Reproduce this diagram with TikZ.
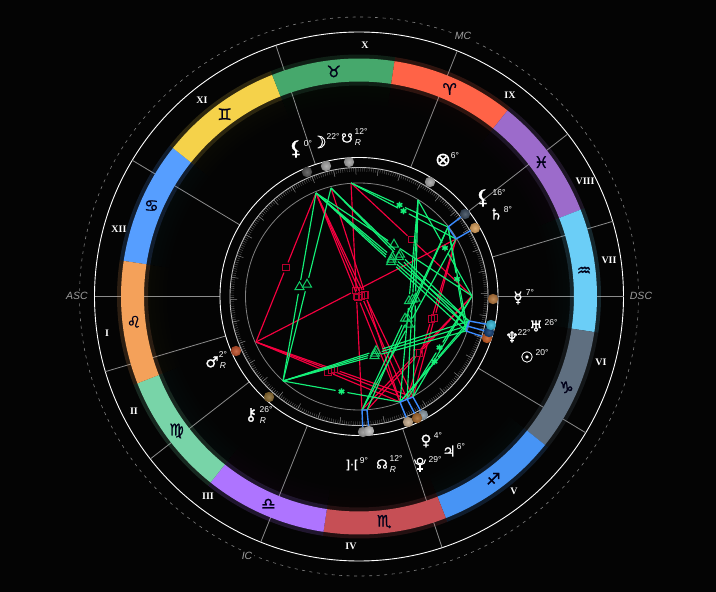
\documentclass[tikz,border=0pt]{standalone}
\usepackage{fontspec}
\setmainfont{Liberation Sans}
\newfontfamily\symf[FakeBold=1.2]{DejaVu Sans}
\newfontfamily\symp[FakeBold=0.8]{DejaVu Sans}
\newfontfamily\numf{Liberation Serif}
\usetikzlibrary{calc,shapes.geometric}
\definecolor{bgc}{HTML}{040404}
\definecolor{asred}{HTML}{F5003F}
\definecolor{asgreen}{HTML}{14F078}
\definecolor{blu}{HTML}{3A8BFF}
\tikzset{
 ringw/.style={draw=white,line width=.9pt},
 houseln/.style={draw=white!55!black,line width=.8pt},
 signg/.style={font=\symf\fontsize{16}{16}\selectfont,text=black!90!blue,inner sep=0pt},
 hnum/.style={font=\numf\bfseries\fontsize{10}{10}\selectfont,text=white,inner sep=0pt},
 angl/.style={font=\fontsize{8.5}{8.5}\selectfont,text=white,inner sep=0pt},
 retr/.style={font=\itshape\fontsize{8.5}{8.5}\selectfont,text=white,inner sep=0pt},
 plan/.style={font=\symp\fontsize{15}{15}\selectfont,text=white,inner sep=0pt},
 axl/.style={font=\itshape\fontsize{10.5}{10}\selectfont,text=white!62!black,inner sep=1.5pt,fill=bgc},
 bracket/.style={draw=blu,line width=1.4pt},
 lnred/.style={draw=asred,line width=1.15pt},
 lngreen/.style={draw=asgreen,line width=1.15pt},
 msq/.style={draw=asred!75!black,line width=1pt,minimum size=6.5pt,inner sep=0pt,rectangle},
 mtri/.style={draw=asgreen!85!black,line width=1pt,regular polygon,regular polygon sides=3,minimum size=10.5pt,inner sep=0pt},
 mstar/.style={text=asgreen,font=\symf\fontsize{8.5}{8.5}\selectfont,inner sep=0pt},
}
\newcommand{\aspl}[6]{% from, to, line style, gap, mark style, mark text
 \coordinate (mid#1#2) at ($(#1)!.5!(#2)$);
 \draw[#3] (#1) -- ($(mid#1#2)!#4!(#1)$) (#2) -- ($(mid#1#2)!#4!(#2)$);
 \node[#5] (mark#1#2) at (mid#1#2) {#6};
}
\newcommand{\ball}[3]{% name, position, colour
 \shade[inner color=#3!85!white,outer color=#3!80!black] (#2) circle[radius=5.2];
 \coordinate (#1) at (#2);
}
\begin{document}
\begin{tikzpicture}[x=1pt,y=1pt]
\fill[bgc] (0,0) rectangle (716,592);
\useasboundingbox (0,0) rectangle (716,592);
\coordinate (ctr) at (359,295.5);
% outer rings
\draw[draw=white!50!black,line width=.6pt,dash pattern=on 3pt off 4.5pt] (ctr) circle[radius=279.5];
\draw[ringw] (ctr) circle[radius=264.5];
\begin{scope}[shift={(ctr)}]
% house lines
\foreach \a in {0,16.5,37.9,68.2,108.3,149,180,196.5,217.9,248.2,288.3,329}{
  \draw[houseln] (\a:139) -- (\a:264.5);
}
% zodiac band
\foreach \a/\c/\g [count=\i] in {
 141.4/569EFF/♋,111.4/F5D24A/♊,81.4/46A86C/♉,51.4/FF6347/♈,21.4/9C6BCB/♓,
 -8.6/6BCEF7/♒,-38.6/5F6F80/♑,-68.6/4794F5/♐,-98.6/C64F55/♏,-128.6/AE74FF/♎,
 -158.6/78D4A8/♍,-188.6/F4A15A/♌}{
  \definecolor{sc}{HTML}{\c}
  \pgfmathsetmacro{\b}{\a+30}
  \pgfmathsetmacro{\m}{\a+15}
  \foreach \r in {192,196,...,208}{
    \fill[sc,opacity=.009] (\a:\r) arc[start angle=\a,end angle=\b,radius=\r] -- (\b:211) arc[start angle=\b,end angle=\a,radius=211] -- cycle;
  }
  \fill[sc,opacity=.17] (\a:211) arc[start angle=\a,end angle=\b,radius=211] -- (\b:242) arc[start angle=\b,end angle=\a,radius=242] -- cycle;
  \fill[sc] (\a:215) arc[start angle=\a,end angle=\b,radius=215] -- (\b:238) arc[start angle=\b,end angle=\a,radius=238] -- cycle;
  \node[signg] (sign\i) at (\m:226.5) {\g};
}
% inner disc
\fill[bgc] (0,0) circle[radius=139];
\draw[ringw] (0,0) circle[radius=139];
\draw[draw=white!75!black,line width=.9pt] (0,0) circle[radius=129];
\draw[draw=white!50!black,line width=.8pt] (0,0) circle[radius=113.5];
\foreach \t in {0,...,359}{
  \draw[draw=white!45!black,line width=.3pt] (\t+1.4:129) -- (\t+1.4:125);
}
\foreach \t in {0,10,...,350}{
  \draw[draw=white!50!black,line width=.5pt] (\t+1.4:129) -- (\t+1.4:122);
}
\end{scope}
% axis labels
\node[axl] (asc) at (77,592-296) {ASC};
\node[axl] (dsc) at (641,592-296) {DSC};
\node[axl] (mc) at (463,592-36) {MC};
\node[axl] (ic) at (247,592-556) {IC};
% house numbers
\node[hnum] (hX) at (365,592-45) {X};
\node[hnum] (hXI) at (202,592-100) {XI};
\node[hnum] (hXII) at (119,592-229) {XII};
\node[hnum] (hI) at (107,592-333) {I};
\node[hnum] (hII) at (134,592-411) {II};
\node[hnum] (hIII) at (208,592-496) {III};
\node[hnum] (hIV) at (351,592-546) {IV};
\node[hnum] (hV) at (514,592-491) {V};
\node[hnum] (hVI) at (601,592-362) {VI};
\node[hnum] (hVII) at (609,592-260) {VII};
\node[hnum] (hVIII) at (585,592-181) {VIII};
\node[hnum] (hIX) at (510,592-95) {IX};
% aspect anchor points on the inner circle
\coordinate (A) at (316,592-193);
\coordinate (B) at (331,592-188);
\coordinate (C) at (351,592-183);
\coordinate (D) at (418,592-200);
\coordinate (E) at (448,592-227);
\coordinate (F) at (456,592-239);
\coordinate (G) at (472,592-296);
\coordinate (H) at (469,592-321);
\coordinate (I) at (467,592-326);
\coordinate (J) at (466,592-331);
\coordinate (K) at (413,592-397);
\coordinate (L) at (407,592-399);
\coordinate (M) at (400,592-402);
\coordinate (N) at (367,592-410);
\coordinate (O) at (362,592-410);
\coordinate (P) at (256,592-342);
\coordinate (Q) at (283,592-381);
% aspects
\foreach \p/\q in {P/A,P/F,P/M,P/L,P/K,A/K,A/L,A/M,B/M,C/O,C/G,F/K,F/L,G/N,G/O}{
  \aspl{\p}{\q}{lnred}{5.5pt}{msq}{}
}
\foreach \p/\q in {A/Q,B/Q,A/G,A/H,A/I,A/J,B/H,B/I,D/M,D/L,D/K,E/O,E/N,F/O,H/Q,I/Q,J/Q}{
  \aspl{\p}{\q}{lngreen}{7pt}{mtri}{}
}
\foreach \p/\q in {C/E,C/F,D/G,E/J,G/L,H/M,Q/M}{
  \aspl{\p}{\q}{lngreen}{6pt}{mstar}{✱}
}
\foreach \p/\q in {E/I,G/K,I/M}{
  \draw[lngreen] (\p) -- (\q);
}
% conjunction brackets
\ball{d1}{307,592-172}{white!33!black}
\ball{d2}{326,592-166}{white!65!black}
\ball{d3}{349,592-162}{white!65!black}
\ball{d4}{430,592-182}{white!65!black}
\coordinate (t5) at (465,592-214);
\coordinate (t6) at (475,592-228);
\coordinate (t8) at (491,592-325);
\coordinate (t9) at (489,592-332);
\coordinate (t10) at (487,592-338);
\coordinate (t11) at (423,592-415);
\coordinate (t12) at (417,592-418);
\coordinate (t13) at (408,592-422);
\coordinate (t14) at (369,592-431);
\coordinate (t15) at (363,592-432);
\draw[bracket] (E) -- (t5) (F) -- (t6) (E) -- (F);
\draw[bracket] (H) -- (t8) (I) -- (t9) (J) -- (t10) (H) -- (J);
\draw[bracket] (K) -- (t11) (L) -- (t12) (M) -- (t13) (K) -- (M);
\draw[bracket] (N) -- (t14) (O) -- (t15) (N) -- (O);
\definecolor{c5}{HTML}{3A4A5C}\definecolor{c6}{HTML}{D9A05B}\definecolor{c7}{HTML}{B5763B}
\definecolor{c8}{HTML}{35B8D8}\definecolor{c9}{HTML}{0F3A70}\definecolor{c10}{HTML}{C85A20}
\definecolor{c11}{HTML}{8A9AA5}\definecolor{c12}{HTML}{A5662A}\definecolor{c13}{HTML}{C8AE90}
\definecolor{c16}{HTML}{C0502A}\definecolor{c17}{HTML}{8A6A30}
\ball{d5}{465,592-214}{c5}
\ball{d6}{475,592-228}{c6}
\ball{d7}{493,592-299}{c7}
\ball{d10}{487,592-338}{c10}
\ball{d9}{489,592-332}{c9}
\ball{d8}{491,592-325}{c8}
\ball{d13}{408,592-422}{c13}
\ball{d11}{423,592-415}{c11}
\ball{d12}{417,592-418}{c12}
\ball{d15}{363,592-432}{white!60!black}
\ball{d14}{369,592-431}{white!75!black}
\ball{d16}{236,592-351}{c16}
\ball{d17}{269,592-397}{c17}
% planet glyphs and degrees
\node[plan,font=\symp\fontsize{20}{20}\selectfont] (lil1) at (296,592-149) {⚸};
\node[angl] (lil1d) at (308,592-144) {0°};
\node[plan,font=\symp\fontsize{17}{17}\selectfont] (moon) at (319,592-142) {☽};
\node[angl] (moond) at (333,592-137) {22°};
\node[plan,font=\symp\fontsize{13}{13}\selectfont] (snode) at (347,592-138) {☋};
\node[angl] (snoded) at (361,592-132) {12°};
\node[retr] (snoder) at (358,592-143) {R};
\node[plan,font=\symp\fontsize{19}{19}\selectfont] (fort) at (443,592-160) {⊗};
\node[angl] (fortd) at (455,592-156) {6°};
\node[plan,font=\symp\fontsize{20}{20}\selectfont] (lil2) at (483,592-198) {⚸};
\node[angl] (lil2d) at (499,592-193) {16°};
\node[plan] (sat) at (496,592-214) {♄};
\node[angl] (satd) at (508,592-210) {8°};
\node[plan] (mer) at (518,592-298) {☿};
\node[angl] (merd) at (530,592-293) {7°};
\node[plan] (ura) at (536,592-326) {♅};
\node[angl] (urad) at (551,592-323) {26°};
\node[plan] (nep) at (512,592-337) {♆};
\node[angl] (nepd) at (524,592-333) {22°};
\node[plan] (sun) at (527,592-357) {☉};
\node[angl] (sund) at (542,592-353) {20°};
\node[plan] (ven) at (426,592-441) {♀};
\node[angl] (vend) at (438,592-436) {4°};
\node[plan] (jup) at (449,592-451) {♃};
\node[angl] (jupd) at (461,592-447) {6°};
% Pluto drawn as circle, cup and cross
\coordinate (plu) at (420,592-461);
\draw[white,line width=1.1pt] (plu) circle[radius=2.8];
\draw[white,line width=1.1pt] ($(plu)+(-5.5,1.5)$) arc[start angle=180,end angle=360,radius=5.5];
\draw[white,line width=1.1pt] ($(plu)+(0,-4)$) -- ($(plu)+(0,-11)$) ($(plu)+(-3,-8)$) -- ($(plu)+(3,-8)$);
\node[angl] (plud) at (435,592-460) {29°};
\node[plan,font=\symp\fontsize{13}{13}\selectfont] (nnode) at (382,592-464) {☊};
\node[angl] (nnoded) at (396,592-459) {12°};
\node[retr] (nnoder) at (393,592-470) {R};
\node[plan,font=\symf\fontsize{12}{12}\selectfont] (vert) at (352,592-465) {]·[};
\node[angl] (vertd) at (364,592-461) {9°};
\node[plan] (mars) at (212,592-362) {♂};
\node[angl] (marsd) at (223,592-355) {2°};
\node[retr] (marsr) at (223,592-366) {R};
\node[plan,font=\symp\fontsize{17}{17}\selectfont] (chi) at (251,592-415) {⚷};
\node[angl] (chid) at (266,592-410) {26°};
\node[retr] (chir) at (263,592-421) {R};
\end{tikzpicture}
\end{document}
